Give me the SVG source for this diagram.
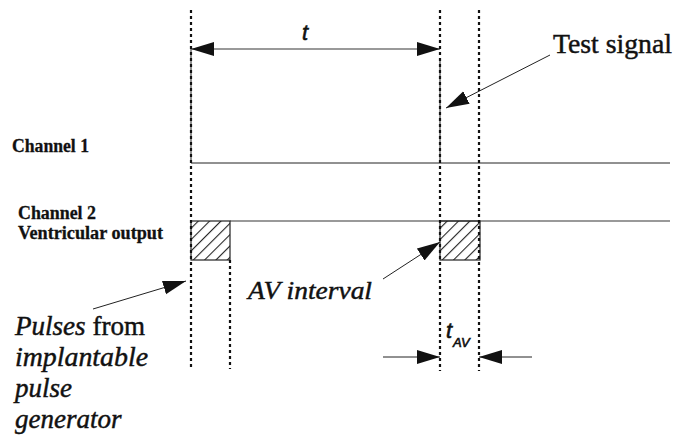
<svg xmlns="http://www.w3.org/2000/svg" width="676" height="439" viewBox="0 0 676 439">
<style>
.dot{stroke:#111;stroke-width:2.2;stroke-dasharray:3 3;fill:none}
.thin{stroke:#222;stroke-width:1;fill:none}
.gray{stroke:#777;stroke-width:1.3;fill:none}
.lead{stroke:#222;stroke-width:1;fill:none}
.lbl{font-family:'Liberation Serif',serif;font-weight:bold;fill:#111;stroke:#111;stroke-width:0.3}
.ser{font-family:'Liberation Serif',serif;fill:#111;stroke:#111;stroke-width:0.45}
.it{font-style:italic}
.sans{font-family:'Liberation Sans',Arial,sans-serif;font-style:italic;fill:#111;stroke:#111;stroke-width:0.6}
</style>
<defs>
<marker id="ah" markerUnits="userSpaceOnUse" markerWidth="24" markerHeight="16" refX="23" refY="7" orient="auto-start-reverse" viewBox="0 0 24 16">
<path d="M0,0 L23,7 L0,14 Z" fill="#111"/>
</marker>
<pattern id="hatch" patternUnits="userSpaceOnUse" width="8" height="8" patternTransform="rotate(45)">
<line x1="0" y1="0" x2="0" y2="8" stroke="#222" stroke-width="2.2"/>
</pattern>
</defs>
<g id="connectors">
<line class="thin" x1="191" y1="163" x2="670" y2="163"/>
<line class="thin" x1="191" y1="49" x2="191" y2="163"/>
<line class="thin" x1="440" y1="60" x2="440" y2="163"/>
<line class="gray" x1="230" y1="221" x2="670" y2="221"/>
<line class="gray" x1="191" y1="49" x2="440" y2="49" marker-start="url(#ah)" marker-end="url(#ah)"/>
<line class="lead" x1="550" y1="55" x2="446" y2="108" marker-end="url(#ah)"/>
<line class="lead" x1="383" y1="279" x2="440" y2="242" marker-end="url(#ah)"/>
<line class="lead" x1="93" y1="309" x2="186" y2="281" marker-end="url(#ah)"/>
<line class="thin" x1="383" y1="357" x2="440" y2="357" marker-end="url(#ah)"/>
<line class="thin" x1="532" y1="357" x2="479" y2="357" marker-end="url(#ah)"/>
</g>
<g id="pulse1">
<rect x="191" y="221" width="39" height="39" fill="url(#hatch)" stroke="#222" stroke-width="1.2"/>
</g>
<g id="pulse2">
<rect x="440" y="221" width="40" height="39" fill="url(#hatch)" stroke="#222" stroke-width="1.2"/>
</g>
<g id="guides">
<line class="dot" x1="191" y1="10" x2="191" y2="369"/>
<line class="dot" x1="230" y1="260" x2="230" y2="369"/>
<line class="dot" x1="440" y1="10" x2="440" y2="371"/>
<line class="dot" x1="479" y1="10" x2="479" y2="371"/>
</g>
<g id="labels">
<text class="sans" x="302" y="40" font-size="22">t</text>
<text class="ser" x="553" y="53" font-size="27" textLength="119" lengthAdjust="spacingAndGlyphs">Test signal</text>
<text class="lbl" x="12" y="152" font-size="18" textLength="77" lengthAdjust="spacingAndGlyphs">Channel 1</text>
<text class="lbl" x="18" y="219" font-size="18" textLength="78" lengthAdjust="spacingAndGlyphs">Channel 2</text>
<text class="lbl" x="18" y="239" font-size="18" textLength="145" lengthAdjust="spacingAndGlyphs">Ventricular output</text>
<text class="ser it" x="248" y="299" font-size="25" textLength="124" lengthAdjust="spacingAndGlyphs">AV interval</text>
<text class="ser" x="15" y="335" font-size="27" textLength="130" lengthAdjust="spacingAndGlyphs"><tspan class="it">Pulses</tspan> from</text>
<text class="ser it" x="15" y="366" font-size="27" textLength="133" lengthAdjust="spacingAndGlyphs">implantable</text>
<text class="ser it" x="15" y="397" font-size="27">pulse</text>
<text class="ser it" x="15" y="428" font-size="27">generator</text>
<text class="sans" x="446" y="338" font-size="22">t</text>
<text class="sans" x="453" y="347" font-size="13">AV</text>
</g>
</svg>
